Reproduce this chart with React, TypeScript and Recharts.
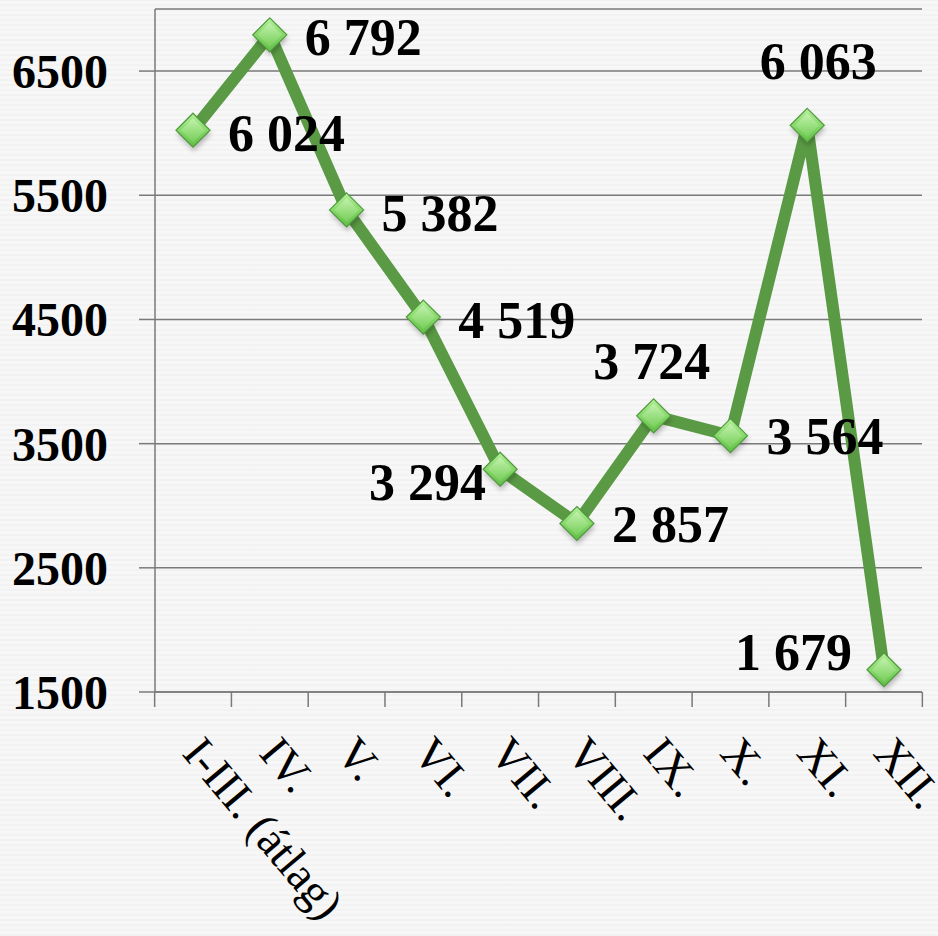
import React from 'react';
import { LineChart, Line, XAxis, YAxis, CartesianGrid, LabelList } from 'recharts';

const categories = ['I-III. (átlag)', 'IV.', 'V.', 'VI.', 'VII.', 'VIII.', 'IX.', 'X.', 'XI.', 'XII.'];
const values = [6024, 6792, 5382, 4519, 3294, 2857, 3724, 3564, 6063, 1679];
const valueLabels = ['6 024', '6 792', '5 382', '4 519', '3 294', '2 857', '3 724', '3 564', '6 063', '1 679'];
const yTicks = [1500, 2500, 3500, 4500, 5500, 6500];

// label placement relative to each point: [anchor, dx, dy]
const labelPlacement: [string, number, number][] = [
  ['start', 35, 3],
  ['start', 35, 2],
  ['start', 35, 3],
  ['start', 35, 3],
  ['end', -14, 13],
  ['start', 35, 1],
  ['middle', -2, -55],
  ['start', 36, 0],
  ['middle', 11, -64],
  ['end', -32, -18],
];

const data = categories.map((c, i) => ({ name: c, value: values[i], label: valueLabels[i] }));

const GRID = '#7a7a7a';
const LINE = '#5a9a44';

const Diamond = (props: any) => {
  const { cx, cy, index } = props;
  if (cx == null || cy == null) return null;
  const r = 17;
  const pts = `${cx},${cy - r} ${cx + r},${cy} ${cx},${cy + r} ${cx - r},${cy}`;
  const ri = 12;
  const inner = `${cx},${cy - ri} ${cx + ri},${cy} ${cx},${cy + ri} ${cx - ri},${cy}`;
  return (
    <g key={`d-${index}`}>
      <polygon points={pts} fill="rgba(0,0,0,0.25)" transform="translate(1,4)" filter="url(#blurShadow)" />
      <polygon points={pts} fill="url(#diamondGrad)" stroke="#4f9a3c" strokeWidth={1.2} />
      <polygon points={inner} fill="url(#innerGrad)" opacity={0.6} />
    </g>
  );
};

const XTick = (props: any) => {
  const { x, y, payload, index, width, visibleTicksCount } = props;
  const count = visibleTicksCount || categories.length;
  const band = (width || 767) / count;
  const half = band / 2;
  return (
    <g>
      <line x1={x - half} y1={y} x2={x - half} y2={y + 15} stroke={GRID} strokeWidth={1.5} />
      {index === count - 1 && (
        <line x1={x + half} y1={y} x2={x + half} y2={y + 15} stroke={GRID} strokeWidth={1.5} />
      )}
      <g transform={`translate(${x - 12},${y + 62})`}>
        <text
          x={0}
          y={0}
          transform="rotate(50)"
          textAnchor="start"
          fontFamily="'Liberation Serif', serif"
          fontSize={46}
          fill="#000"
        >
          {payload.value}
        </text>
      </g>
    </g>
  );
};

const ValueLabel = (props: any) => {
  const { x, y, index } = props;
  const [anchor, dx, dy] = labelPlacement[index];
  return (
    <text
      x={x + dx}
      y={y + dy + 18}
      textAnchor={anchor as any}
      fontFamily="'Liberation Serif', serif"
      fontWeight="bold"
      fontSize={52}
      fill="#000"
    >
      {valueLabels[index]}
    </text>
  );
};

export default function App() {
  return (
    <div
      style={{
        position: 'absolute',
        left: 0,
        top: 0,
        width: 938,
        height: 936,
        backgroundColor: '#f7f7f7',
        backgroundImage:
          'repeating-linear-gradient(0deg, rgba(0,0,0,0.018) 0px, rgba(0,0,0,0.018) 2px, rgba(255,255,255,0) 2px, rgba(255,255,255,0) 5px)',
      }}
    >
      <LineChart width={938} height={936} data={data} margin={{ top: 9, right: 16, left: 0, bottom: 0 }}>
        <defs>
          <linearGradient id="diamondGrad" x1="0" y1="0" x2="0" y2="1">
            <stop offset="0%" stopColor="#b6ef9c" />
            <stop offset="50%" stopColor="#86d86a" />
            <stop offset="100%" stopColor="#5fbd45" />
          </linearGradient>
          <linearGradient id="innerGrad" x1="0" y1="0" x2="0" y2="1">
            <stop offset="0%" stopColor="#d4f8c4" />
            <stop offset="100%" stopColor="#7fd35f" />
          </linearGradient>
          <filter id="blurShadow" x="-50%" y="-50%" width="200%" height="200%">
            <feGaussianBlur stdDeviation="2.5" />
          </filter>
        </defs>
        <CartesianGrid horizontal vertical={false} stroke={GRID} strokeWidth={1.5} />
        <XAxis
          dataKey="name"
          interval={0}
          height={244}
          padding={{ left: 38, right: 38 }}
          axisLine={{ stroke: GRID, strokeWidth: 1.5 }}
          tickLine={false}
          tickSize={0}
          tickMargin={0}
          tick={<XTick />}
        />
        <YAxis
          width={155}
          domain={[1500, 7000]}
          ticks={yTicks}
          interval={0}
          allowDataOverflow
          axisLine={{ stroke: GRID, strokeWidth: 1.5 }}
          tickLine={{ stroke: GRID, strokeWidth: 1.5 }}
          tickSize={16}
          tickMargin={31}
          tick={{ fontFamily: "'Liberation Serif', serif", fontWeight: 'bold', fontSize: 48, fill: '#000' }}
        />
        <Line
          type="linear"
          dataKey="value"
          stroke={LINE}
          strokeWidth={12}
          strokeLinejoin="miter"
          dot={<Diamond />}
          activeDot={false}
          isAnimationActive={false}
        >
          <LabelList dataKey="label" content={<ValueLabel />} />
        </Line>
      </LineChart>
    </div>
  );
}
